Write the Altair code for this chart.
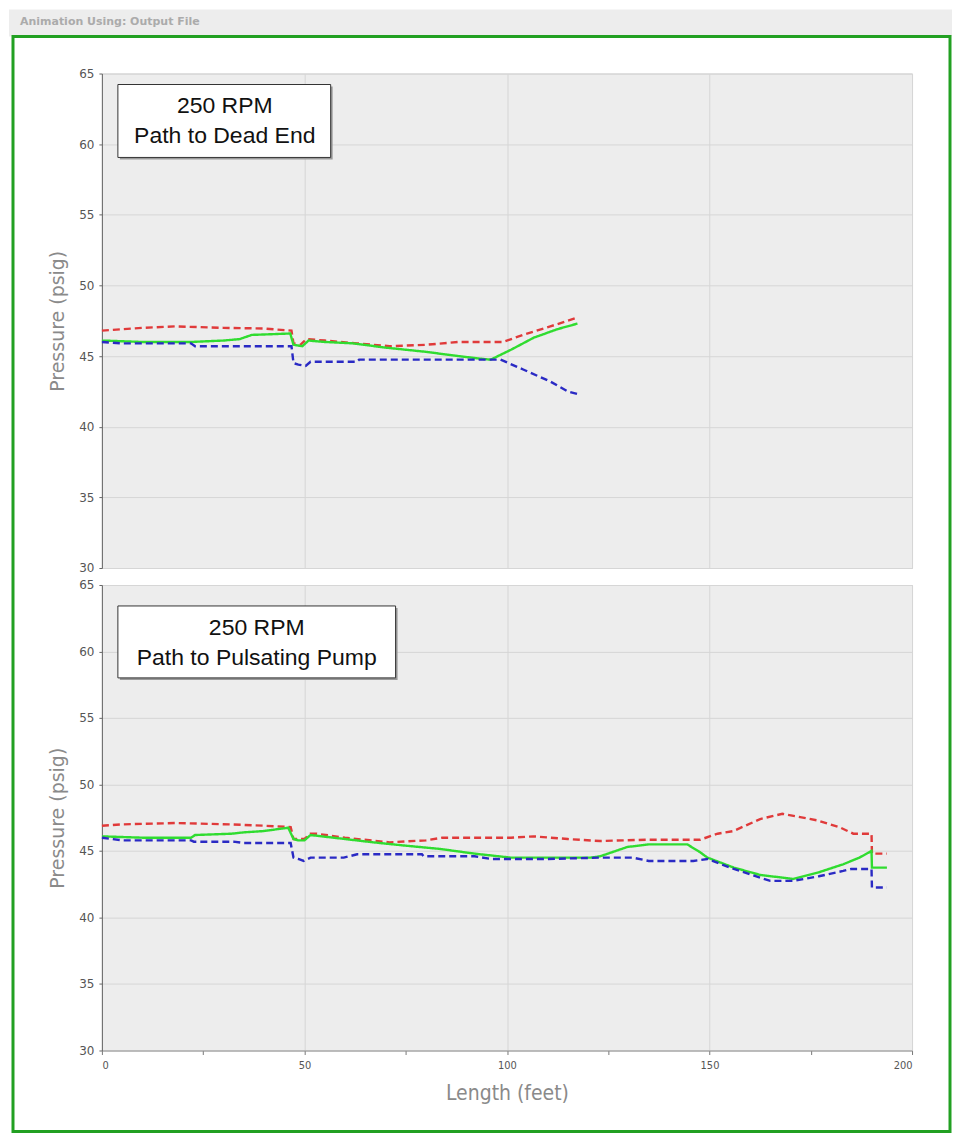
import altair as alt
import pandas as pd

# ---------------- data ----------------
# Top panel: Path to Dead End
top_max_x = [0, 5, 10, 18, 30, 40, 46.8, 47.3, 49, 50.5, 55, 63, 71, 80, 88, 99, 104, 110.7, 117.6]
top_max_y = [46.8, 46.9, 47.0, 47.1, 47.0, 46.95, 46.8, 45.9, 45.8, 46.2, 46.1, 45.9, 45.7, 45.8, 46.0, 46.0, 46.5, 47.1, 47.75]

top_cur_x = [0, 10, 22, 30, 34, 37, 42, 46.5, 47.3, 49.5, 51, 55, 62, 70, 80, 88, 94, 96, 101, 106.6, 112.4, 117.4]
top_cur_y = [46.1, 46.0, 46.0, 46.1, 46.2, 46.5, 46.55, 46.6, 45.8, 45.7, 46.1, 46.0, 45.9, 45.6, 45.3, 45.0, 44.8, 44.75, 45.45, 46.3, 46.9, 47.3]

top_min_x = [0, 5, 22, 23, 46.8, 47.3, 48.5, 50.3, 51.5, 63, 63.5, 98.4, 104, 110.7, 115, 117.6]
top_min_y = [46.0, 45.9, 45.9, 45.7, 45.7, 44.5, 44.4, 44.3, 44.6, 44.6, 44.75, 44.75, 44.05, 43.2, 42.5, 42.3]

# Bottom panel: Path to Pulsating Pump
bot_max_x = [0, 5, 18, 32, 40, 46.6, 47.3, 50, 51.5, 53, 60, 71, 80, 84, 101, 106.5, 115, 123, 135, 147.7,
             152, 155.9, 162.5, 168, 176.6, 182, 185.5, 190, 190.1, 193.8]
bot_max_y = [46.9, 47.0, 47.1, 47.0, 46.9, 46.8, 45.9, 45.9, 46.3, 46.3, 46.0, 45.65, 45.8, 46.0, 46.0, 46.1,
             45.9, 45.75, 45.85, 45.85, 46.3, 46.5, 47.4, 47.8, 47.3, 46.8, 46.3, 46.3, 44.8, 44.8]

bot_cur_x = [0, 10, 22, 23, 32, 35, 40, 46, 47.3, 48.5, 50, 51.5, 60, 67, 75, 83.6, 92, 101, 110, 120.6, 123,
             129.7, 135, 144.5, 147.7, 149.5, 156, 162.5, 170.6, 177, 183, 187, 190, 190.1, 193.8]
bot_cur_y = [46.1, 46.0, 46.0, 46.2, 46.3, 46.4, 46.5, 46.75, 45.9, 45.8, 45.8, 46.2, 45.9, 45.65, 45.4, 45.15,
             44.8, 44.5, 44.5, 44.5, 44.6, 45.3, 45.5, 45.5, 44.9, 44.5, 43.75, 43.2, 42.9, 43.4, 44.0, 44.5,
             45.0, 43.75, 43.75]

bot_min_x = [0, 5, 22, 22.7, 32.5, 35, 46.6, 47.3, 48.5, 49.8, 51.5, 59.7, 63, 79, 79.4, 92, 96, 101, 110,
             123, 131, 135, 146, 149.5, 156, 162.5, 165, 170.6, 177, 183, 185, 190, 190.1, 193.8]
bot_min_y = [46.0, 45.8, 45.8, 45.7, 45.7, 45.6, 45.6, 44.5, 44.4, 44.25, 44.5, 44.5, 44.75, 44.75, 44.6,
             44.6, 44.4, 44.4, 44.4, 44.5, 44.5, 44.25, 44.25, 44.4, 43.65, 43.0, 42.75, 42.75, 43.1, 43.5,
             43.65, 43.65, 42.25, 42.25]

y_ticks = [30, 35, 40, 45, 50, 55, 60, 65]
x_ticks = [0, 25, 50, 75, 100, 125, 150, 175, 200]

top_label = ["250 RPM", "Path to Dead End"]
bot_label = ["250 RPM", "Path to Pulsating Pump"]
window_title = "Animation Using: Output File"

# ---------------- styling ----------------
W = 811
H_TOP = 495
H_BOT = 466
RED = "#e03a3a"
GREEN = "#30dc30"
BLUE = "#2a2ac4"
GRID = "#d6d6d6"

x_scale = alt.Scale(domain=[0, 200], nice=False, zero=False)
y_scale = alt.Scale(domain=[30, 65], nice=False, zero=False)

y_axis = alt.Axis(
    values=y_ticks, title="Pressure (psig)", grid=True, gridColor=GRID,
    domainColor="#666", tickColor="#666", tickSize=3, labelPadding=5,
    labelFont="DejaVu Sans", labelFontSize=12, labelColor="#555",
    titleFont="DejaVu Sans", titleFontSize=19, titleFontWeight="normal",
    titleColor="#8a8a8a", titlePadding=11,
)

x_axis_top = alt.Axis(values=[0, 50, 100, 150, 200], labels=False, ticks=False, domain=False,
                      title=None, grid=True, gridColor=GRID)

x_axis_bot = alt.Axis(
    values=x_ticks, labelExpr="datum.value % 50 == 0 ? datum.label : ''",
    grid=True, gridColor=GRID,
    gridOpacity={"condition": {"test": "datum.value % 50 != 0", "value": 0}, "value": 1},
    title="Length (feet)", domainColor="#999", tickColor="#777", tickSize=4, labelPadding=5,
    labelFont="Liberation Sans Narrow, DejaVu Sans Condensed, Roboto", labelFontSize=11, labelColor="#555",
    titleFont="Liberation Sans Narrow, DejaVu Sans Condensed, Roboto", titleFontSize=21,
    titleFontWeight="normal", titleColor="#8a8a8a", titlePadding=12,
)


def lines(xs, ys, color, dashed, x_axis):
    df = pd.DataFrame({"x": xs, "y": ys, "i": range(len(xs))})
    mark = alt.Chart(df).mark_line(color=color, strokeWidth=2.4,
                                   strokeDash=[7, 4] if dashed else [1, 0])
    return mark.encode(
        x=alt.X("x:Q", scale=x_scale, axis=x_axis),
        y=alt.Y("y:Q", scale=y_scale, axis=y_axis),
        order="i:Q",
    )


one = pd.DataFrame({"a": [0]})


def box(x0, x1, y0, y1, labels, cx, cy1, cy2):
    shadow = alt.Chart(one).mark_rect(fill="#9a9a9a").encode(
        x=alt.value(x0 + 2), x2=alt.value(x1 + 2), y=alt.value(y0 + 2), y2=alt.value(y1 + 2))
    rect = alt.Chart(one).mark_rect(fill="white", stroke="#333", strokeWidth=1).encode(
        x=alt.value(x0), x2=alt.value(x1), y=alt.value(y0), y2=alt.value(y1))
    t1 = alt.Chart(pd.DataFrame({"t": [labels[0]]})).mark_text(
        font="Liberation Sans", fontSize=23, color="#111", align="center", baseline="middle"
    ).encode(text="t:N", x=alt.value(cx), y=alt.value(cy1))
    t2 = alt.Chart(pd.DataFrame({"t": [labels[1]]})).mark_text(
        font="Liberation Sans", fontSize=23, color="#111", align="center", baseline="middle"
    ).encode(text="t:N", x=alt.value(cx), y=alt.value(cy2))
    return [shadow, rect, t1, t2]


# window decorations (panel coordinates of the top panel)
strip = alt.Chart(one).mark_rect(fill="#ededed").encode(
    x=alt.value(-93), x2=alt.value(851), y=alt.value(-64), y2=alt.value(-37))
strip_text = alt.Chart(pd.DataFrame({"t": [window_title]})).mark_text(
    font="DejaVu Sans", fontSize=11, fontWeight="bold", color="#ababab", align="left", baseline="middle"
).encode(text="t:N", x=alt.value(-82), y=alt.value(-52))
border = alt.Chart(one).mark_rect(fill="transparent", stroke="#22a022", strokeWidth=3).encode(
    x=alt.value(-89), x2=alt.value(849), y=alt.value(-37), y2=alt.value(1059))

top = alt.layer(
    strip, strip_text, border,
    *box(16, 229, 11, 84, top_label, 123, 33, 63),
    lines(top_max_x, top_max_y, RED, True, x_axis_top),
    lines(top_cur_x, top_cur_y, GREEN, False, x_axis_top),
    lines(top_min_x, top_min_y, BLUE, True, x_axis_top),
).properties(width=W, height=H_TOP)

bottom = alt.layer(
    *box(16, 294, 21, 93, bot_label, 155, 43, 73),
    lines(bot_max_x, bot_max_y, RED, True, x_axis_bot),
    lines(bot_cur_x, bot_cur_y, GREEN, False, x_axis_bot),
    lines(bot_min_x, bot_min_y, BLUE, True, x_axis_bot),
).properties(width=W, height=H_BOT)

chart = alt.vconcat(top, bottom, spacing=17, bounds="flush").properties(
    background="white", padding=0
).configure_view(fill="#ededed", stroke="#d0d0d0")

chart.save("out.html", embed_options={"renderer": "svg", "actions": False})
